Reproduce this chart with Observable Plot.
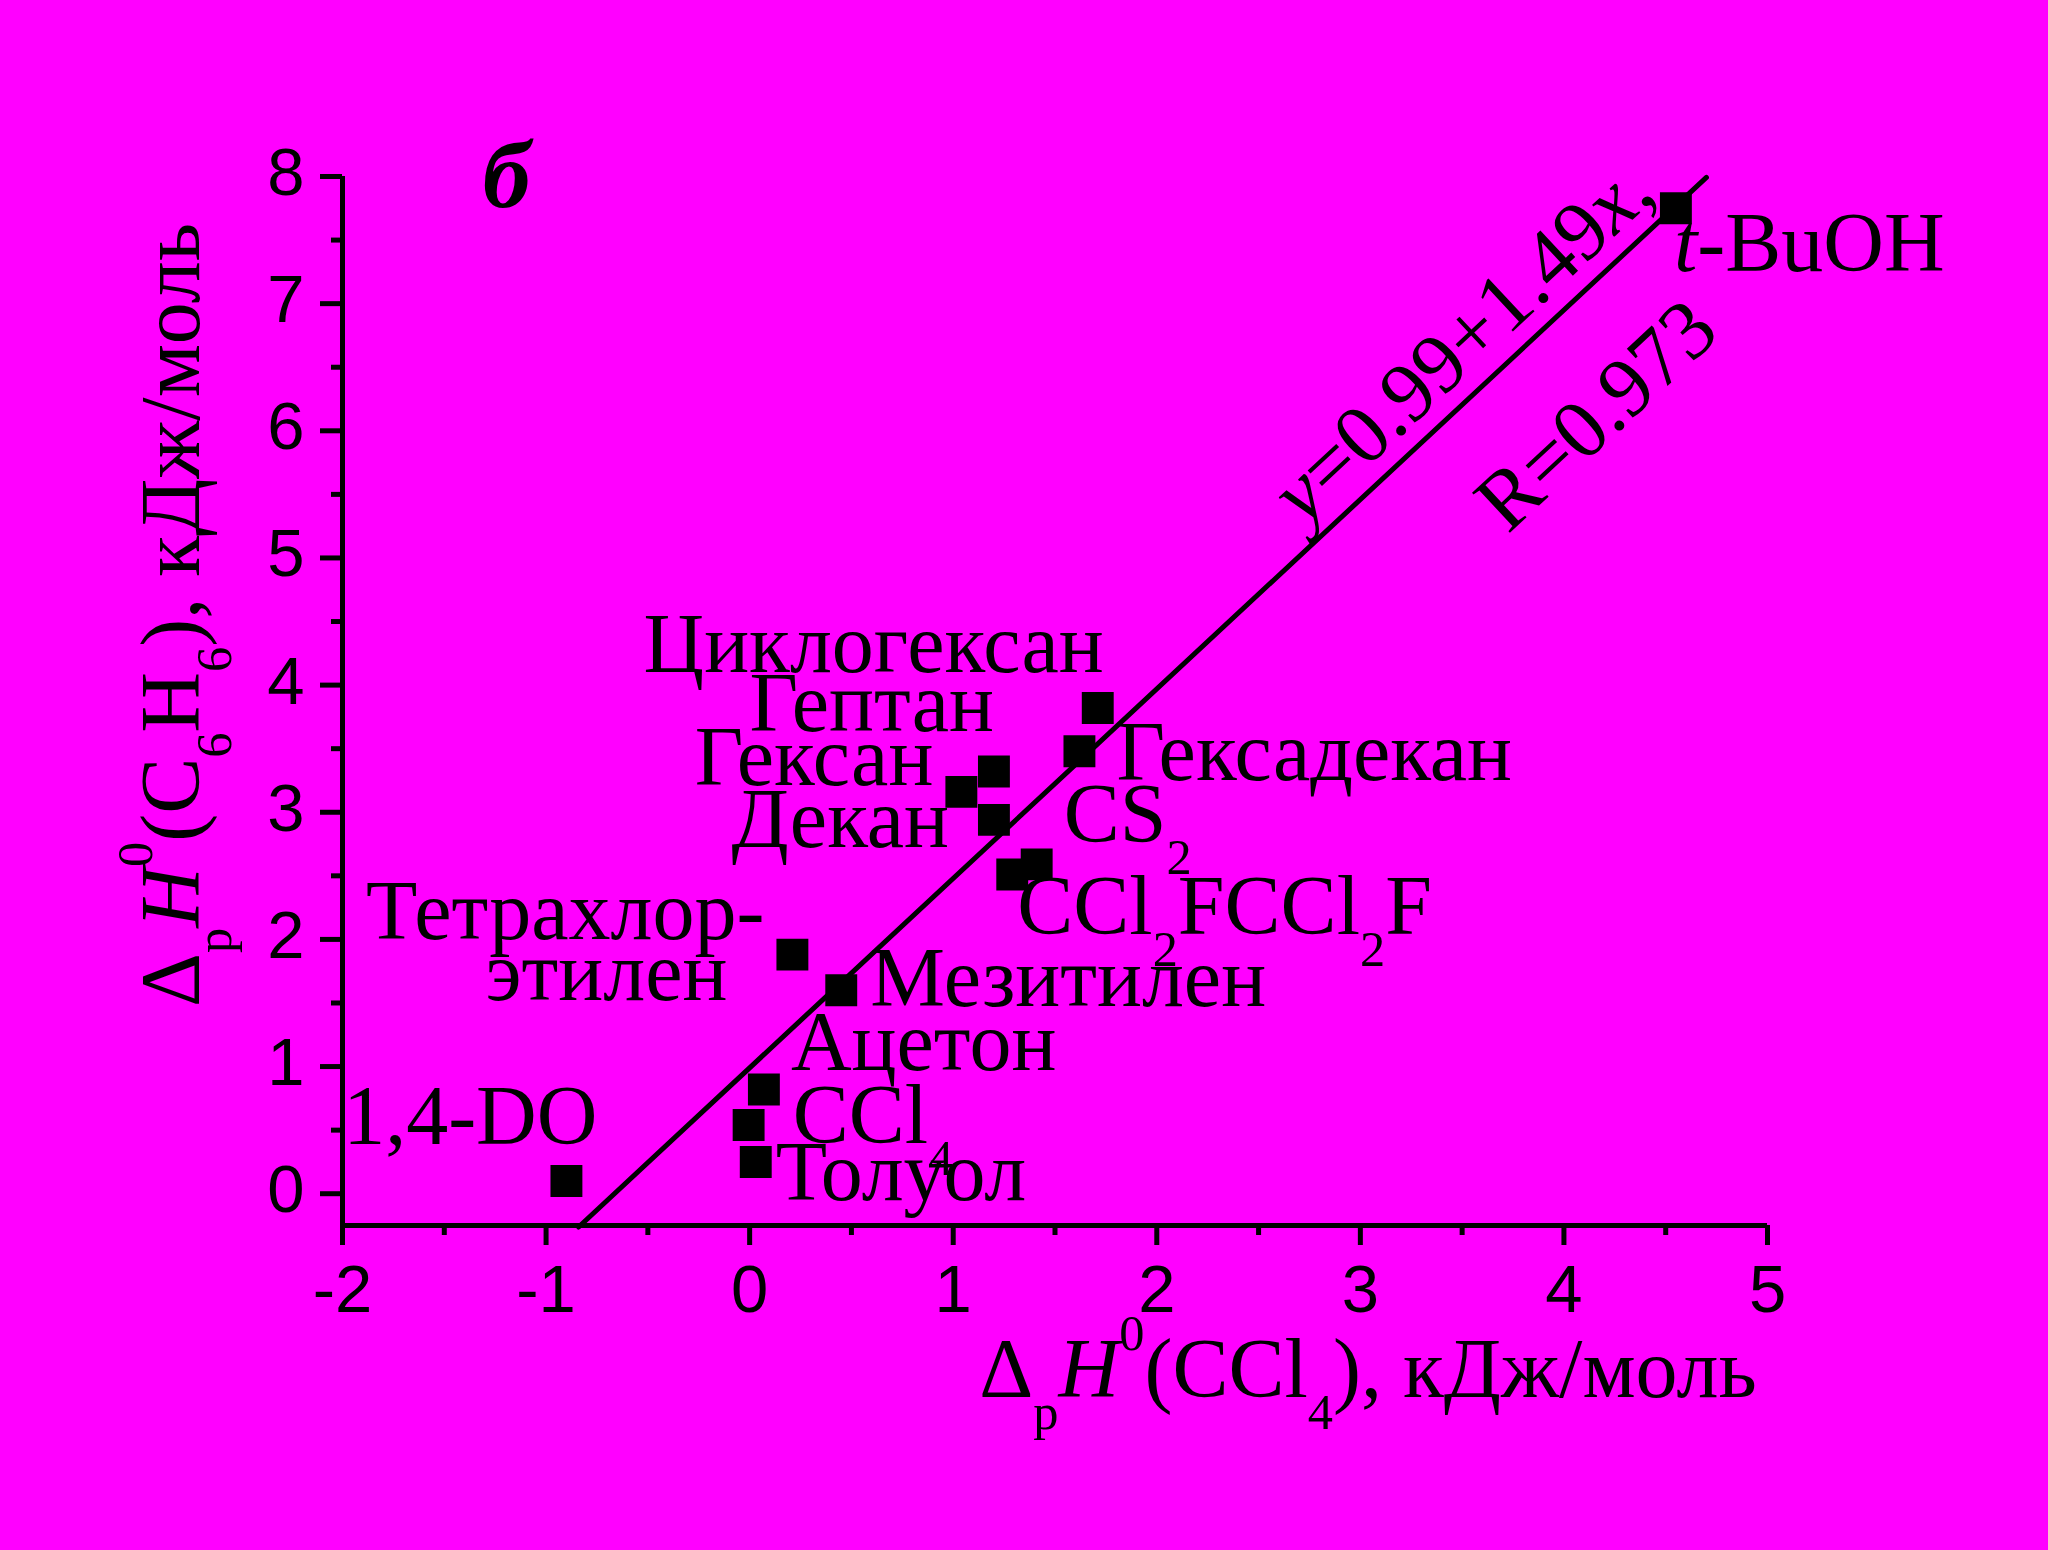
<!DOCTYPE html>
<html>
<head>
<meta charset="utf-8">
<script src="https://cdn.jsdelivr.net/npm/d3@7"></script>
<script src="https://cdn.jsdelivr.net/npm/@observablehq/plot@0.6"></script>
<style>
  html, body { margin: 0; padding: 0; background: #ff00ff; overflow: hidden; }
  #chart svg { display: block; }
</style>
</head>
<body>
<div id="chart"></div>
<script>
// ---------- data ----------
const solvents = ["1,4-DO", "Толуол", "CCl4", "Ацетон", "Тетрахлорэтилен", "Мезитилен",
  "CCl2FCCl2F", "CS2", "Декан", "Гексан", "Гептан", "Гексадекан", "Циклогексан", "t-BuOH"];
const dH_CCl4 = [-0.90, 0.03, -0.005, 0.07, 0.21, 0.45, 1.29, 1.41, 1.20, 1.04, 1.20, 1.62, 1.71, 4.55];
const dH_C6H6 = [0.10, 0.25, 0.54, 0.82, 1.88, 1.60, 2.51, 2.59, 2.94, 3.16, 3.32, 3.48, 3.82, 7.75];

// regression reported on the chart: y = 0.99 + 1.49x, R = 0.973
const fitIntercept = 0.99;
const fitSlope = 1.49;
const fitXRange = [-0.84, 4.70];

const xTicksMajor = [-2, -1, 0, 1, 2, 3, 4, 5];
const xTicksMinor = [-1.5, -0.5, 0.5, 1.5, 2.5, 3.5, 4.5];
const yTicksMajor = [0, 1, 2, 3, 4, 5, 6, 7, 8];
const yTicksMinor = [0.5, 1.5, 2.5, 3.5, 4.5, 5.5, 6.5, 7.5];

const xTitle = "Δ_{p}*H*^{0}(CCl_{4}), кДж/моль";
const yTitle = "Δ_{p}*H*^{0}(C_{6}H_{6}), кДж/моль";
const panelLetter = "б";
const eqText = "*y*=0.99+1.49*x*,";
const rText = "R=0.973";

// ---------- layout (styles / offsets) ----------
const W = 2048, H = 1550;
const mL = 342, mR = 281, mT = 176, mB = 325;
const xDomain = [-2, 5], yDomain = [-0.25, 8];
const pxX = (xDomain[1] - xDomain[0]) / (W - mL - mR);
const pxY = (yDomain[1] - yDomain[0]) / (H - mT - mB);
const BLACK = "#000";
const SERIF = "Liberation Serif, Times New Roman, serif";
const SANS = "Liberation Sans, Arial, sans-serif";
const LABEL_FS = 84;

// label placement: index of point, text (with markup), offsets in px, anchor
const labelLayout = [
  {i: 0, text: "1,4-DO", dx: 31, dy: -64, anchor: "end"},
  {i: 1, text: "Толуол", dx: 20, dy: 11, anchor: "start"},
  {i: 2, text: "CCl_{4}", dx: 44, dy: -9, anchor: "start"},
  {i: 3, text: "Ацетон", dx: 27, dy: -46, anchor: "start"},
  {i: 4, text: "Тетрахлор-", dx: -28, dy: -43, anchor: "end"},
  {i: 4, text: "этилен", dx: -65, dy: 18, anchor: "end"},
  {i: 5, text: "Мезитилен", dx: 29, dy: -11, anchor: "start"},
  {i: 6, text: "CCl_{2}FCCl_{2}F", dx: 5, dy: 33, anchor: "start"},
  {i: 7, text: "CS_{2}", dx: 27, dy: -49, anchor: "start"},
  {i: 8, text: "Декан", dx: -45, dy: 0, anchor: "end"},
  {i: 9, text: "Гексан", dx: -28, dy: -34, anchor: "end"},
  {i: 10, text: "Гептан", dx: 0, dy: -67, anchor: "end"},
  {i: 11, text: "Гексадекан", dx: 37, dy: 2, anchor: "start"},
  {i: 12, text: "Циклогексан", dx: 6, dy: -63, anchor: "end"},
  {i: 13, text: "*t*-BuOH", dx: -2, dy: 36, anchor: "start"}
];

const points = solvents.map((name, i) => ({name, x: dH_CCl4[i], y: dH_C6H6[i]}));
const fitLine = fitXRange.map(x => ({x, y: fitIntercept + fitSlope * x}));
const eqAnchor = [{x: 3.53, y: fitIntercept + fitSlope * 3.53}];
const rAnchor = [{x: 4.13, y: fitIntercept + fitSlope * 4.13}];

const labelMarks = labelLayout.map(L => Plot.text([points[L.i]], {
  x: "x", y: "y", text: () => L.text, dx: L.dx, dy: L.dy,
  textAnchor: L.anchor, lineAnchor: "middle", fontSize: LABEL_FS, fontFamily: SERIF, fill: BLACK
}));

const chart = Plot.plot({
  width: W, height: H,
  marginLeft: mL, marginRight: mR, marginTop: mT, marginBottom: mB,
  x: {domain: xDomain, axis: null},
  y: {domain: yDomain, axis: null},
  style: {background: "#ff00ff", overflow: "visible"},
  marks: [
    // axis lines
    Plot.ruleX([xDomain[0]], {x: d => d, y1: yDomain[0], y2: yDomain[1], stroke: BLACK, strokeWidth: 5}),
    Plot.ruleY([yDomain[0]], {y: d => d, x1: xDomain[0], x2: xDomain[1], stroke: BLACK, strokeWidth: 5}),
    // x ticks
    Plot.ruleX(xTicksMajor, {x: d => d, y1: yDomain[0], y2: yDomain[0] - 20 * pxY, stroke: BLACK, strokeWidth: 5}),
    Plot.ruleX(xTicksMinor, {x: d => d, y1: yDomain[0], y2: yDomain[0] - 10 * pxY, stroke: BLACK, strokeWidth: 5}),
    // y ticks
    Plot.ruleY(yTicksMajor, {y: d => d, x1: xDomain[0], x2: xDomain[0] - 22 * pxX, stroke: BLACK, strokeWidth: 5}),
    Plot.ruleY(yTicksMinor, {y: d => d, x1: xDomain[0], x2: xDomain[0] - 11 * pxX, stroke: BLACK, strokeWidth: 5}),
    // tick labels
    Plot.text(xTicksMajor, {x: d => d, y: yDomain[0], dy: 65, text: d => String(d),
      lineAnchor: "middle", fontSize: 67, fontFamily: SANS, fill: BLACK}),
    Plot.text(yTicksMajor, {x: xDomain[0], y: d => d, dx: -38, dy: -3, text: d => String(d),
      textAnchor: "end", lineAnchor: "middle", fontSize: 67, fontFamily: SANS, fill: BLACK}),
    // regression line
    Plot.line(fitLine, {x: "x", y: "y", stroke: BLACK, strokeWidth: 5}),
    // data points
    Plot.dot(points, {x: "x", y: "y", symbol: "square", r: 18, fill: BLACK, stroke: "none"}),
    // point labels
    ...labelMarks,
    // equation and R
    Plot.text(eqAnchor, {x: "x", y: "y", text: () => eqText, rotate: -43, dx: -6, dy: -57,
      textAnchor: "middle", lineAnchor: "middle", fontSize: LABEL_FS, fontFamily: SERIF, fill: BLACK}),
    Plot.text(rAnchor, {x: "x", y: "y", text: () => rText, rotate: -43, dx: 6, dy: 130,
      textAnchor: "middle", lineAnchor: "middle", fontSize: LABEL_FS, fontFamily: SERIF, fill: BLACK}),
    // panel letter
    Plot.text([panelLetter], {frameAnchor: "top-left", text: d => d, dx: 140, dy: 0,
      textAnchor: "start", lineAnchor: "middle", fontSize: 96, fontWeight: "bold", fontStyle: "italic",
      fontFamily: SERIF, fill: BLACK}),
    // axis titles
    Plot.text([xTitle], {frameAnchor: "bottom", text: d => d, dx: 313, dy: 145,
      textAnchor: "middle", lineAnchor: "middle", fontSize: LABEL_FS, fontFamily: SERIF, fill: BLACK}),
    Plot.text([yTitle], {frameAnchor: "left", text: d => d, rotate: -90, dx: -170, dy: -86,
      textAnchor: "middle", lineAnchor: "middle", fontSize: LABEL_FS, fontFamily: SERIF, fill: BLACK})
  ]
});

// rich text: _{sub}, ^{sup}, *italic*
const SVGNS = "http://www.w3.org/2000/svg";
function richify(textEl, fs) {
  const s = textEl.textContent;
  if (!/[_^*]/.test(s)) return;
  const parts = [];
  let i = 0, italic = false, buf = "";
  const flush = () => { if (buf) parts.push({t: buf, mode: "n", italic}); buf = ""; };
  while (i < s.length) {
    const c = s[i];
    if ((c === "_" || c === "^") && s[i + 1] === "{") {
      flush();
      const j = s.indexOf("}", i);
      parts.push({t: s.slice(i + 2, j), mode: c === "_" ? "sub" : "sup", italic});
      i = j + 1;
    } else if (c === "*") {
      flush(); italic = !italic; i++;
    } else { buf += c; i++; }
  }
  flush();
  textEl.textContent = "";
  let cur = 0;
  for (const p of parts) {
    const ts = document.createElementNS(SVGNS, "tspan");
    let target = 0, size = null;
    if (p.mode === "sub") { target = 0.38 * fs; size = 0.6 * fs; }
    else if (p.mode === "sup") { target = -0.56 * fs; size = 0.6 * fs; }
    if (target !== cur) ts.setAttribute("dy", (target - cur).toFixed(2));
    cur = target;
    if (size) ts.setAttribute("font-size", size.toFixed(2));
    if (p.italic) ts.setAttribute("font-style", "italic");
    ts.textContent = p.t;
    textEl.appendChild(ts);
  }
}
d3.select(chart).selectAll("text").each(function() {
  const g = this.closest("g[font-size]");
  const fs = g ? parseFloat(g.getAttribute("font-size")) : LABEL_FS;
  richify(this, fs || LABEL_FS);
});

document.getElementById("chart").appendChild(chart);
</script>
</body>
</html>
